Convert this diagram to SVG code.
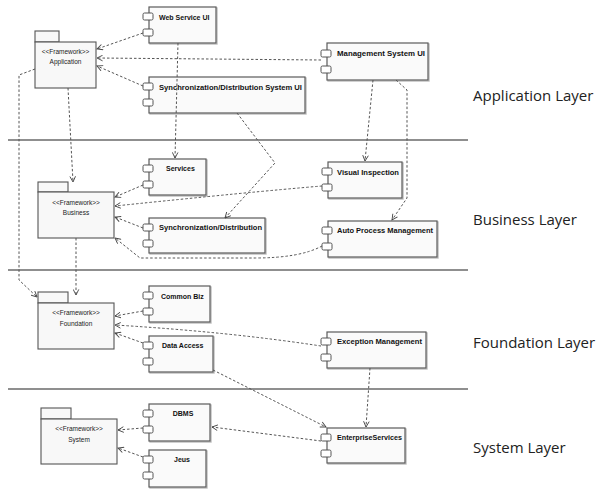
<svg xmlns="http://www.w3.org/2000/svg" width="598" height="498" viewBox="0 0 598 498">
<style>
.layer{stroke:#6a6a6a;stroke-width:1.6;fill:none}
.lt{font-family:"Open Sans","Liberation Sans",sans-serif;font-size:15px;fill:#222}
.cbox{fill:#fafafa;stroke:#5a5a5a;stroke-width:1.2}
.csh{fill:none;stroke:#bdbdbd;stroke-width:1.4}
.port{fill:#fff;stroke:#555;stroke-width:1}
.ct{font-family:"Liberation Sans",Arial,sans-serif;font-size:7px;font-weight:bold;fill:#111}
.pk{fill:#f8f8f8;stroke:#555;stroke-width:1.1}
.pt{font-family:"Liberation Sans",Arial,sans-serif;font-size:6.5px;fill:#222;text-anchor:middle}
.dep{fill:none;stroke:#555;stroke-width:1;stroke-dasharray:2.5,2;marker-end:url(#arr)}
</style>
<defs>
<marker id="arr" viewBox="0 0 10 10" refX="9" refY="5" markerWidth="7" markerHeight="7" orient="auto" markerUnits="userSpaceOnUse">
<path d="M1,1 L9,5 L1,9" fill="none" stroke="#444" stroke-width="1.3"/>
</marker>
</defs>
<rect width="598" height="498" fill="#fff"/>

<g id="layers">
<line class="layer" x1="8" y1="140" x2="468" y2="140"/>
<line class="layer" x1="8" y1="270" x2="468" y2="270"/>
<line class="layer" x1="8" y1="389" x2="468" y2="389"/>
<text class="lt" x="473" y="101">Application Layer</text>
<text class="lt" x="473" y="225">Business Layer</text>
<text class="lt" x="473" y="348">Foundation Layer</text>
<text class="lt" x="473" y="453">System Layer</text>
</g>

<g id="pkg-application">
<rect class="pk" x="35" y="31" width="24" height="11"/>
<rect class="pk" x="35" y="42" width="61" height="46"/>
<text class="pt" x="65.5" y="54">&lt;&lt;Framework&gt;&gt;</text>
<text class="pt" x="65.5" y="64">Application</text>
</g>
<g id="pkg-business">
<rect class="pk" x="38" y="182" width="30" height="10"/>
<rect class="pk" x="38" y="192" width="76" height="46"/>
<text class="pt" x="76" y="205">&lt;&lt;Framework&gt;&gt;</text>
<text class="pt" x="76" y="215">Business</text>
</g>
<g id="pkg-foundation">
<rect class="pk" x="38" y="292" width="30" height="11"/>
<rect class="pk" x="38" y="303" width="76" height="46"/>
<text class="pt" x="76" y="315">&lt;&lt;Framework&gt;&gt;</text>
<text class="pt" x="76" y="326">Foundation</text>
</g>
<g id="pkg-system">
<rect class="pk" x="41" y="408" width="30" height="11"/>
<rect class="pk" x="41" y="419" width="76" height="45"/>
<text class="pt" x="79" y="431">&lt;&lt;Framework&gt;&gt;</text>
<text class="pt" x="79" y="442">System</text>
</g>

<g id="c-webservice-ui">
<rect class="csh" x="150" y="8" width="67" height="36"/>
<rect class="cbox" x="149" y="7" width="67" height="36"/>
<rect class="port" x="143" y="13" width="10" height="7" rx="1.5"/>
<rect class="port" x="143" y="29" width="10" height="7" rx="1.5"/>
<text class="ct" x="159" y="20">Web Service UI</text>
</g>
<g id="c-syncdist-ui">
<rect class="csh" x="150" y="78" width="156" height="36"/>
<rect class="cbox" x="149" y="77" width="156" height="36"/>
<rect class="port" x="143" y="83" width="10" height="7" rx="1.5"/>
<rect class="port" x="143" y="99" width="10" height="7" rx="1.5"/>
<text class="ct" x="159" y="90" textLength="143" lengthAdjust="spacingAndGlyphs">Synchronization/Distribution System UI</text>
</g>
<g id="c-management-ui">
<rect class="csh" x="328" y="44" width="101" height="37"/>
<rect class="cbox" x="327" y="43" width="101" height="37"/>
<rect class="port" x="321" y="50" width="10" height="7" rx="1.5"/>
<rect class="port" x="321" y="66" width="10" height="7" rx="1.5"/>
<text class="ct" x="337" y="56" textLength="88" lengthAdjust="spacingAndGlyphs">Management System UI</text>
</g>
<g id="c-services">
<rect class="csh" x="150" y="160" width="57" height="36"/>
<rect class="cbox" x="149" y="159" width="57" height="36"/>
<rect class="port" x="143" y="165" width="10" height="7" rx="1.5"/>
<rect class="port" x="143" y="181" width="10" height="7" rx="1.5"/>
<text class="ct" x="166" y="171">Services</text>
</g>
<g id="c-visual-inspection">
<rect class="csh" x="329" y="163" width="74" height="36"/>
<rect class="cbox" x="328" y="162" width="74" height="36"/>
<rect class="port" x="322" y="168" width="10" height="7" rx="1.5"/>
<rect class="port" x="322" y="184" width="10" height="7" rx="1.5"/>
<text class="ct" x="337" y="175" textLength="62" lengthAdjust="spacingAndGlyphs">Visual Inspection</text>
</g>
<g id="c-syncdist">
<rect class="csh" x="150" y="219" width="116" height="35"/>
<rect class="cbox" x="149" y="218" width="116" height="35"/>
<rect class="port" x="143" y="224" width="10" height="7" rx="1.5"/>
<rect class="port" x="143" y="240" width="10" height="7" rx="1.5"/>
<text class="ct" x="159" y="230" textLength="103" lengthAdjust="spacingAndGlyphs">Synchronization/Distribution</text>
</g>
<g id="c-auto-process">
<rect class="csh" x="329" y="222" width="109" height="36"/>
<rect class="cbox" x="328" y="221" width="109" height="36"/>
<rect class="port" x="322" y="227" width="10" height="7" rx="1.5"/>
<rect class="port" x="322" y="243" width="10" height="7" rx="1.5"/>
<text class="ct" x="337" y="233" textLength="96" lengthAdjust="spacingAndGlyphs">Auto Process Management</text>
</g>
<g id="c-common-biz">
<rect class="csh" x="150" y="287" width="61" height="36"/>
<rect class="cbox" x="149" y="286" width="61" height="36"/>
<rect class="port" x="143" y="292" width="10" height="7" rx="1.5"/>
<rect class="port" x="143" y="308" width="10" height="7" rx="1.5"/>
<text class="ct" x="161" y="299">Common Biz</text>
</g>
<g id="c-data-access">
<rect class="csh" x="150" y="337" width="64" height="36"/>
<rect class="cbox" x="149" y="336" width="64" height="36"/>
<rect class="port" x="143" y="342" width="10" height="7" rx="1.5"/>
<rect class="port" x="143" y="358" width="10" height="7" rx="1.5"/>
<text class="ct" x="162" y="348">Data Access</text>
</g>
<g id="c-exception">
<rect class="csh" x="328" y="333" width="99" height="36"/>
<rect class="cbox" x="327" y="332" width="99" height="36"/>
<rect class="port" x="321" y="338" width="10" height="7" rx="1.5"/>
<rect class="port" x="321" y="354" width="10" height="7" rx="1.5"/>
<text class="ct" x="337" y="344" textLength="85" lengthAdjust="spacingAndGlyphs">Exception Management</text>
</g>
<g id="c-dbms">
<rect class="csh" x="150" y="405" width="61" height="37"/>
<rect class="cbox" x="149" y="404" width="61" height="37"/>
<rect class="port" x="143" y="410" width="10" height="7" rx="1.5"/>
<rect class="port" x="143" y="426" width="10" height="7" rx="1.5"/>
<text class="ct" x="183" y="416" text-anchor="middle">DBMS</text>
</g>
<g id="c-jeus">
<rect class="csh" x="150" y="451" width="57" height="37"/>
<rect class="cbox" x="149" y="450" width="57" height="37"/>
<rect class="port" x="143" y="456" width="10" height="7" rx="1.5"/>
<rect class="port" x="143" y="472" width="10" height="7" rx="1.5"/>
<text class="ct" x="182" y="462" text-anchor="middle">Jeus</text>
</g>
<g id="c-enterprise">
<rect class="csh" x="328" y="429" width="78" height="35"/>
<rect class="cbox" x="327" y="428" width="78" height="35"/>
<rect class="port" x="321" y="434" width="10" height="7" rx="1.5"/>
<rect class="port" x="321" y="450" width="10" height="7" rx="1.5"/>
<text class="ct" x="337" y="440" textLength="65" lengthAdjust="spacingAndGlyphs">EnterpriseServices</text>
</g>

<g id="connectors">
<path class="dep" d="M143,33 L97,49"/>
<path class="dep" d="M321,60 L97,58"/>
<path class="dep" d="M143,86 L97,66"/>
<path class="dep" d="M35,69 L19,75 L19,280 L37,297"/>
<path class="dep" d="M68,88 L73,182"/>
<path class="dep" d="M178,43 L175,158"/>
<path class="dep" d="M237,113 L275,163 L225,218"/>
<path class="dep" d="M373,80 L365,161"/>
<path class="dep" d="M396,80 L407,90 L407,198 L392,220"/>
<path class="dep" d="M143,185 L115,197"/>
<path class="dep" d="M322,186 Q250,192 115,206"/>
<path class="dep" d="M143,228 L115,217"/>
<path class="dep" d="M322,246 Q300,258 255,258 L140,258 L115,238"/>
<path class="dep" d="M76,238 L76,295"/>
<path class="dep" d="M143,311 L115,316"/>
<path class="dep" d="M321,346 Q230,332 115,325"/>
<path class="dep" d="M143,343 L115,333"/>
<path class="dep" d="M213,370 L326,427"/>
<path class="dep" d="M370,368 L366,427"/>
<path class="dep" d="M321,441 L212,427"/>
<path class="dep" d="M143,428 L118,430"/>
<path class="dep" d="M143,457 L118,448"/>
</g>
</svg>
